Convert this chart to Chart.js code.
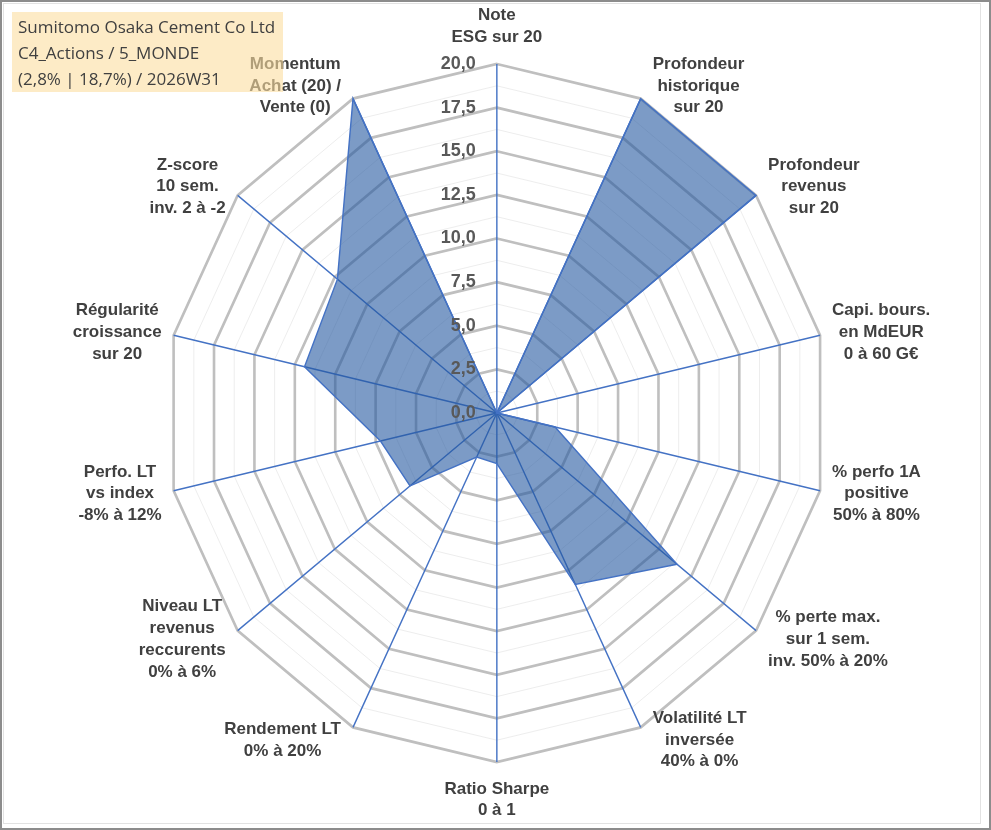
<!DOCTYPE html>
<html lang="fr">
<head>
<meta charset="utf-8">
<script src="https://cdn.jsdelivr.net/npm/chart.js@4/dist/chart.umd.min.js"></script>
<style>
  html, body { margin: 0; padding: 0; background: #fff; }
  .wrap { position: relative; width: 991px; height: 830px; overflow: hidden; }
  canvas { position: absolute; left: 0; top: 0; }
  .outer { position: absolute; inset: 0; border: 2px solid #8c8c8c; pointer-events: none; }
  .inner { position: absolute; left: 3px; top: 3px; width: 976px; height: 819px; border: 1px solid #e2e2e2; pointer-events: none; }
  .title {
    position: absolute; left: 12px; top: 12px; width: 265px; height: 78px;
    padding: 2px 0 0 6px;
    background: rgba(252, 222, 160, 0.6);
    font: 17px/26px "Open Sans", "Noto Sans", sans-serif;
    color: #404040; white-space: nowrap;
  }
</style>
</head>
<body>
<div class="wrap">
  <canvas id="radar" width="991" height="830"></canvas>
  <div class="inner"></div>
  <div class="outer"></div>
  <div class="title">Sumitomo Osaka Cement Co Ltd<br>C4_Actions / 5_MONDE<br>(2,8% | 18,7%) / 2026W31</div>
</div>
<script>
// axes, clockwise from the top
const AXES = [
  ['Note', 'ESG sur 20'],
  ['Profondeur', 'historique', 'sur 20'],
  ['Profondeur', 'revenus', 'sur 20'],
  ['Capi. bours.', 'en MdEUR', '0 à 60 G€'],
  ['% perfo 1A', 'positive', '50% à 80%'],
  ['% perte max.', 'sur 1 sem.', 'inv. 50% à 20%'],
  ['Volatilité LT', 'inversée', '40% à 0%'],
  ['Ratio Sharpe', '0 à 1'],
  ['Rendement LT', '0% à 20%'],
  ['Niveau LT', 'revenus', 'reccurents', '0% à 6%'],
  ['Perfo. LT', 'vs index', '-8% à 12%'],
  ['Régularité', 'croissance', 'sur 20'],
  ['Z-score', '10 sem.', 'inv. 2 à -2'],
  ['Momentum', 'Achat (20) /', 'Vente (0)'],
];
const SCORES = [0, 20, 20, 0, 3.6, 13.9, 10.9, 2.9, 2.8, 6.7, 7.2, 11.9, 12.3, 20];
const RING_VALUES = [0, 2.5, 5, 7.5, 10, 12.5, 15, 17.5, 20];
const RING_LABELS = ['0,0', '2,5', '5,0', '7,5', '10,0', '12,5', '15,0', '17,5', '20,0'];

const SX = 0.95; // the reference plot is slightly narrower than tall
const LABEL_FONT = 'bold 17px "Liberation Sans", Arial, sans-serif';
const LINE_H = 21.7;

const squash = {
  id: 'squash',
  beforeDraw(chart) {
    chart.ctx.save();
    chart.ctx.scale(SX, 1);
  },
  afterDraw(chart) {
    const ctx = chart.ctx;
    ctx.restore();
    const r = chart.scales.r;
    ctx.save();
    // value ticks, left of the vertical axis
    ctx.font = 'bold 18px "Liberation Sans", Arial, sans-serif';
    ctx.fillStyle = '#595959';
    ctx.textAlign = 'right';
    ctx.textBaseline = 'middle';
    RING_VALUES.forEach((v, i) => {
      ctx.fillText(RING_LABELS[i], r.xCenter * SX - 21, r.yCenter - r.getDistanceFromCenterForValue(v));
    });
    // axis names
    ctx.font = LABEL_FONT;
    ctx.fillStyle = '#404040';
    ctx.textAlign = 'center';
    AXES.forEach((lines, i) => {
      const p = r.getPointPosition(i, r.drawingArea);
      const vx = p.x * SX, vy = p.y;
      const a = p.angle + Math.PI / 2;
      const s = Math.sin(a), c = Math.cos(a);
      const w = Math.max(...lines.map((t) => ctx.measureText(t).width));
      const h = lines.length * LINE_H;
      let cx, cy;
      if (Math.abs(s) < 0.01) {
        cx = vx;
        cy = vy - Math.sign(c) * (h / 2 + 16);
      } else {
        cx = vx + Math.sign(s) * (w / 2 + 12);
        cy = vy - 14 * c;
      }
      lines.forEach((t, k) => ctx.fillText(t, cx, cy + (k - (lines.length - 1) / 2) * LINE_H));
    });
    ctx.restore();
  },
};

new Chart(document.getElementById('radar'), {
  type: 'radar',
  data: {
    labels: AXES,
    datasets: [{
      data: SCORES,
      fill: true,
      backgroundColor: 'rgba(37, 88, 160, 0.6)',
      borderColor: '#4472C4',
      borderWidth: 1.5,
      pointRadius: 0,
      pointHoverRadius: 0,
    }],
  },
  options: {
    responsive: false,
    animation: false,
    layout: {padding: {left: 174, right: 118, top: 64, bottom: 67}},
    plugins: {legend: {display: false}, tooltip: {enabled: false}},
    scales: {
      r: {
        min: 0,
        max: 20,
        ticks: {stepSize: 1.25, display: false},
        pointLabels: {display: false},
        grid: {
          color: (ctx) => (ctx.tick && ctx.tick.value % 2.5 === 0 ? '#BFBFBF' : '#EDEDED'),
          lineWidth: (ctx) => (ctx.tick && ctx.tick.value % 2.5 === 0 ? 2.75 : 1),
        },
        angleLines: {color: '#4472C4', lineWidth: 1.5},
      },
    },
  },
  plugins: [squash],
});
</script>
</body>
</html>
